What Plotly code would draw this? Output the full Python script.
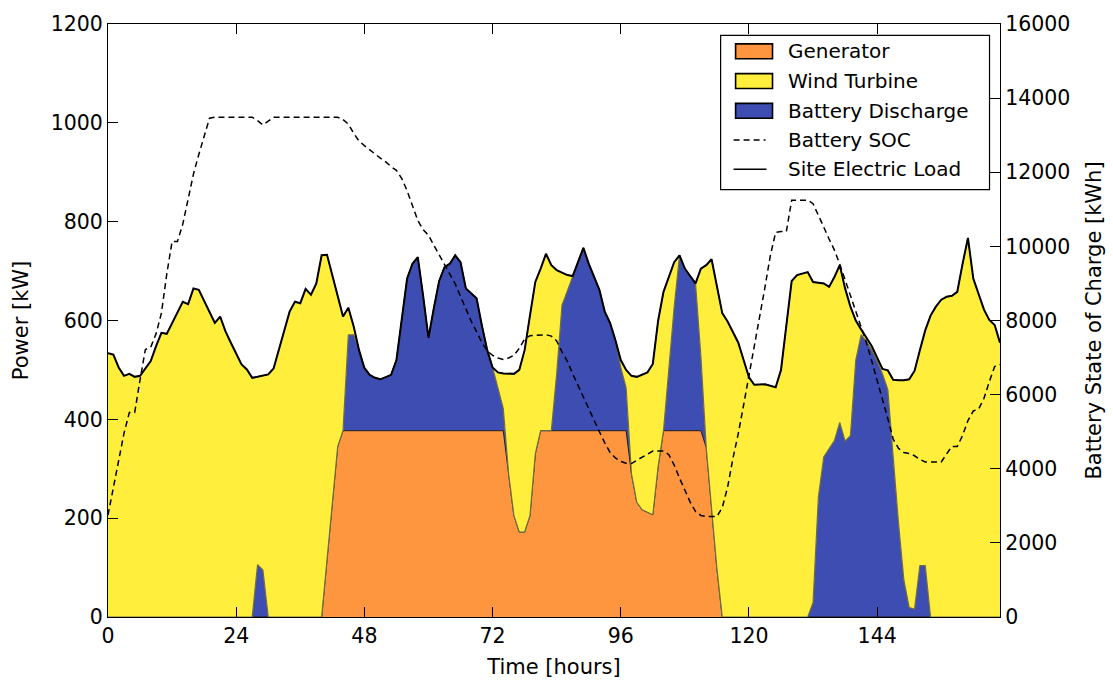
import plotly.graph_objects as go

hours = list(range(168))

site_load = [534, 531, 505, 488, 492, 486, 488, 503, 518, 548,
             575, 573, 595, 617, 638, 633, 665, 662, 640, 617,
             595, 608, 578, 555, 533, 511, 501, 484, 486, 488,
             491, 503, 540, 578, 618, 638, 635, 664, 652, 675,
             732, 733, 692, 650, 608, 626, 588, 540, 504, 490,
             484, 481, 485, 490, 520, 605, 685, 715, 728, 650,
             565, 625, 680, 708, 715, 732, 718, 665, 655, 645,
             590, 540, 505, 495, 493, 492, 492, 500, 540, 610,
             678, 705, 735, 712, 702, 697, 692, 690, 720, 747,
             715, 690, 662, 618, 595, 560, 520, 500, 488, 486,
             490, 495, 512, 600, 658, 690, 718, 732, 705, 690,
             675, 705, 712, 724, 668, 615, 598, 578, 555, 520,
             485, 470, 470, 471, 468, 465, 500, 590, 680, 692,
             695, 698, 678, 676, 675, 668, 688, 712, 665, 628,
             600, 582, 565, 548, 525, 502, 499, 480, 479, 479,
             481, 498, 540, 580, 610, 628, 642, 648, 650, 658,
             715, 767, 685, 655, 622, 601, 591, 555]

generator = [0] * 41 + [115, 230, 345] + [377] * 31 + \
            [290, 205, 172, 172, 205, 330] + [377] * 17 + \
            [290, 232, 217, 212, 207, 305] + [377] * 8 + \
            [343, 220, 98] + [0] * 53

battery = [0] * 28 + [106, 95] + [0] * 15 + \
          [194, 194, 163, 127, 113, 107, 104, 108, 113, 143,
           228, 308, 338, 351, 273, 188, 248, 303, 331, 338,
           355, 341, 288, 278, 268, 213, 163, 128, 87, 45] + [0] * 9 + \
          [115, 254, 283, 313, 343, 370, 338, 313, 285, 241,
           218, 183, 128, 87] + [0] * 7 + \
          [125, 250, 355, 328, 313, 298, 150] + [0] * 20 + \
          [29, 243, 324, 340, 357, 394, 356, 367, 520, 571,
           558, 540, 518, 492, 460, 324, 190, 75, 19, 16,
           104, 104] + [0] * 14

wind = [534, 531, 505, 488, 492, 486, 488, 503, 518, 548,
        575, 573, 595, 617, 638, 633, 665, 662, 640, 617,
        595, 608, 578, 555, 533, 511, 501, 484, 380, 393,
        491, 503, 540, 578, 618, 638, 635, 664, 652, 675,
        732, 618, 462, 305, 231, 55, 17, 0, 0, 0,
        0, 0, 0, 0, 0, 0, 0, 0, 0, 0,
        0, 0, 0, 0, 0, 0, 0, 0, 0, 0,
        0, 0, 0, 31, 71, 202, 287, 328, 368, 405,
        348, 328, 358, 335, 210, 66, 32, 0, 0, 0,
        0, 0, 0, 0, 0, 0, 15, 36, 198, 254,
        273, 283, 305, 295, 281, 188, 91, 0, 0, 0,
        0, 178, 369, 504, 570, 615, 598, 578, 555, 520,
        485, 470, 470, 471, 468, 465, 500, 590, 680, 692,
        695, 698, 649, 433, 351, 328, 331, 318, 309, 261,
        80, 11, 7, 8, 7, 10, 39, 156, 289, 404,
        462, 482, 436, 476, 610, 628, 642, 648, 650, 658,
        715, 767, 685, 655, 622, 601, 591, 555]

battery_soc = [2750, 3500, 4200, 4960, 5520, 5520, 6400, 7220, 7280, 7640,
               8200, 9250, 10133, 10133, 10600, 11300, 11950, 12480, 13000, 13458,
               13485, 13485, 13485, 13485, 13485, 13485, 13485, 13485, 13390, 13280,
               13380, 13485, 13485, 13485, 13485, 13485, 13485, 13485, 13485, 13485,
               13485, 13485, 13485, 13485, 13420, 13300, 13050, 12840, 12720, 12600,
               12480, 12380, 12280, 12150, 12050, 11830, 11500, 11100, 10700, 10450,
               10300, 10030, 9760, 9500, 9250, 8990, 8650, 8300, 7980, 7700,
               7400, 7180, 7060, 6990, 6950, 6990, 7060, 7250, 7500, 7590,
               7600, 7610, 7617, 7580, 7450, 7150, 6900, 6560, 6240, 5930,
               5610, 5300, 5000, 4700, 4440, 4290, 4200, 4150, 4140, 4230,
               4316, 4400, 4476, 4476, 4476, 4380, 4100, 3750, 3400, 3100,
               2845, 2740, 2711, 2711, 2711, 2950, 3500, 4280, 4950, 5720,
               6500, 7350, 8150, 8900, 9750, 10380, 10400, 10400, 11246, 11246,
               11246, 11246, 11150, 10850, 10520, 10200, 9900, 9520, 9100, 8660,
               8250, 7830, 7400, 6900, 6400, 5900, 5350, 4800, 4550, 4440,
               4410, 4350, 4250, 4182, 4182, 4182, 4182, 4400, 4602, 4602,
               4900, 5300, 5560, 5610, 5900, 6350, 6760, 6813]

x_ticks = [0, 24, 48, 72, 96, 120, 144]
legend_labels = ["Generator", "Wind Turbine", "Battery Discharge",
                 "Battery SOC", "Site Electric Load"]

C_GEN = "#FD963F"
C_WIND = "#FFEF3C"
C_BATT = "#3D4DB1"
FONT = "DejaVu Sans"
TICK_SIZE = 20.5

fig = go.Figure()
fig.add_trace(go.Scatter(x=hours, y=generator, stackgroup="s", mode="lines",
                         line=dict(color="#1a1a1a", width=1), fillcolor=C_GEN,
                         name=legend_labels[0], showlegend=False))
fig.add_trace(go.Scatter(x=hours, y=battery, stackgroup="s", mode="lines",
                         line=dict(color="#6e6c48", width=1.2), fillcolor=C_BATT,
                         name=legend_labels[2], showlegend=False))
fig.add_trace(go.Scatter(x=hours, y=wind, stackgroup="s", mode="lines",
                         line=dict(color="#222222", width=1), fillcolor=C_WIND,
                         name=legend_labels[1], showlegend=False))
fig.add_trace(go.Scatter(x=hours, y=site_load, mode="lines",
                         line=dict(color="black", width=2),
                         name=legend_labels[4], showlegend=False))
fig.add_trace(go.Scatter(x=hours, y=battery_soc, mode="lines", yaxis="y2",
                         line=dict(color="black", width=1.5, dash="6px,4px"),
                         name=legend_labels[3], showlegend=False))

# plot area in pixels
L, R, T, B = 108, 1002, 20, 618


def px(xp):
    return (xp - L) / (R - L)


def py(yp):
    return (B - yp) / (B - T)


shapes = [dict(type="rect", xref="paper", yref="paper",
               x0=px(722), x1=px(991.5), y0=py(187), y1=py(31.5),
               line=dict(color="black", width=1.2), fillcolor="white", layer="above")]
rows = [47.5, 77.5, 107.5, 137, 166.5]
patch_colors = [C_GEN, C_WIND, C_BATT]
for i, c in enumerate(patch_colors):
    shapes.append(dict(type="rect", xref="paper", yref="paper",
                       x0=px(737), x1=px(774), y0=py(rows[i] + 7.5), y1=py(rows[i] - 7.5),
                       line=dict(color="black", width=1.6), fillcolor=c, layer="above"))
shapes.append(dict(type="line", xref="paper", yref="paper",
                   x0=px(735), x1=px(767), y0=py(rows[3]), y1=py(rows[3]),
                   line=dict(color="black", width=1.5, dash="6px,4px"), layer="above"))
shapes.append(dict(type="line", xref="paper", yref="paper",
                   x0=px(735), x1=px(768), y0=py(rows[4]), y1=py(rows[4]),
                   line=dict(color="black", width=1.5), layer="above"))

annotations = []
for i, lab in enumerate(legend_labels):
    annotations.append(dict(xref="paper", yref="paper", x=px(788), y=py(rows[i]),
                            text=lab, showarrow=False, xanchor="left", yanchor="middle",
                            font=dict(family=FONT, size=20, color="black")))

fig.update_layout(
    width=1113, height=686,
    margin=dict(l=L, r=1113 - R, t=T, b=686 - B),
    plot_bgcolor="white", paper_bgcolor="white",
    font=dict(family=FONT, size=TICK_SIZE, color="black"),
    shapes=shapes, annotations=annotations,
    xaxis=dict(range=[0, 167], tickvals=x_ticks, ticks="inside", ticklen=10,
               tickcolor="black", showline=True, linecolor="black", linewidth=1.2,
               mirror="ticks", showgrid=False, zeroline=False,
               tickfont=dict(family=FONT, size=TICK_SIZE),
               title=dict(text="Time [hours]", font=dict(family=FONT, size=21), standoff=12)),
    yaxis=dict(range=[0, 1200], dtick=200, ticks="inside", ticklen=10,
               tickcolor="black", showline=True, linecolor="black", linewidth=1.2,
               showgrid=False, zeroline=False, tickformat="d",
               tickfont=dict(family=FONT, size=TICK_SIZE),
               title=dict(text="Power [kW]", font=dict(family=FONT, size=21), standoff=16)),
    yaxis2=dict(range=[0, 16000], dtick=2000, ticks="inside", ticklen=10,
                tickcolor="black", showline=True, linecolor="black", linewidth=1.2,
                overlaying="y", side="right", showgrid=False, zeroline=False,
                tickformat="d",
                tickfont=dict(family=FONT, size=TICK_SIZE),
                title=dict(text="Battery State of Charge [kWh]",
                           font=dict(family=FONT, size=21), standoff=16)),
)

fig.write_html("out.html")
